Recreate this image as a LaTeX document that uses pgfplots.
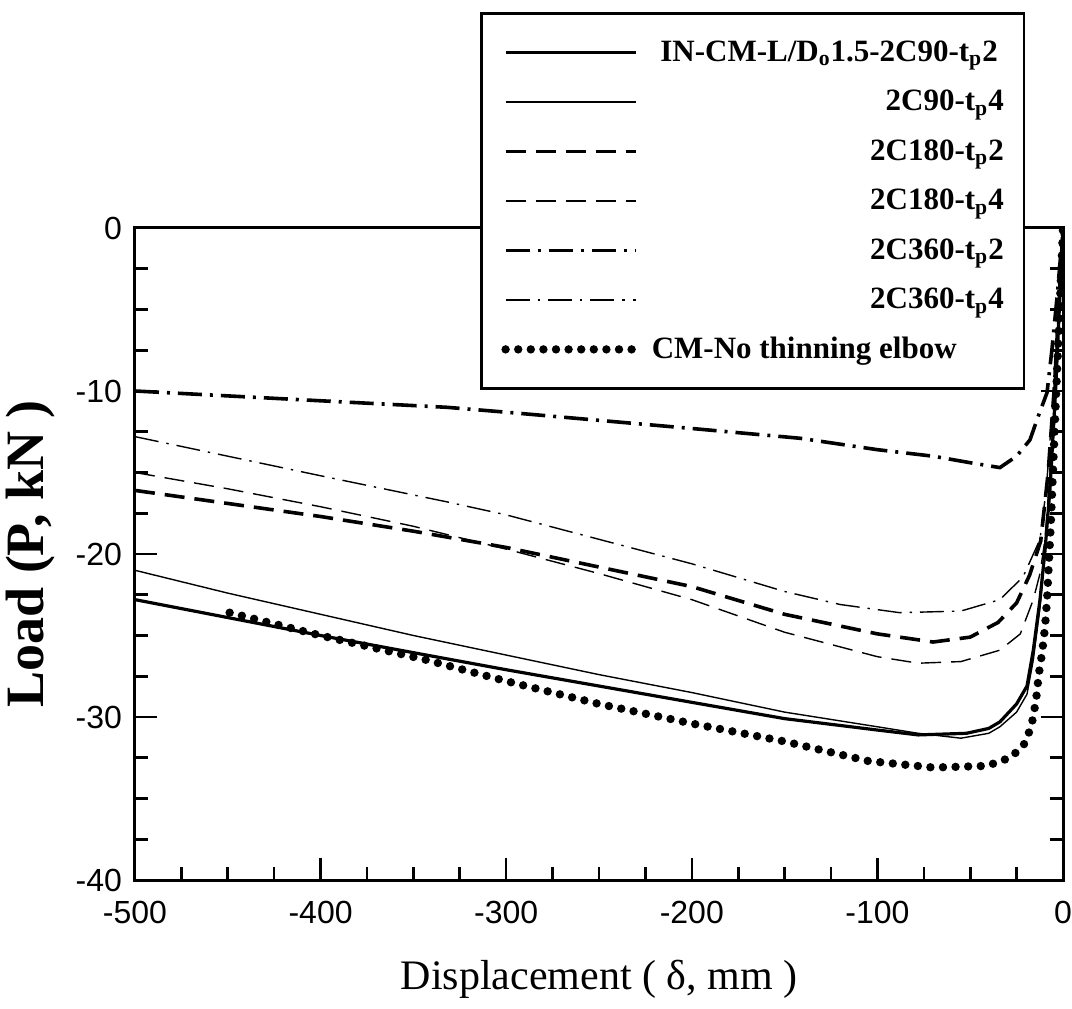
\documentclass[border=0pt]{standalone}
\usepackage{fontspec}
\setmainfont{Liberation Serif}
\newfontfamily\arialfont{Liberation Sans}
\usepackage{pgfplots}
\pgfplotsset{compat=1.18}

\begin{document}
\begin{tikzpicture}
\begin{axis}[
  scale only axis, width=464bp, height=326bp,
  xmin=-500, xmax=0, ymin=-40, ymax=0,
  xtick={-500,-400,...,0}, ytick={-40,-30,...,0},
  minor x tick num=3, minor y tick num=3,
  tick align=inside, xtick pos=bottom, ytick pos=both,
  major tick length=11bp, minor tick length=6.5bp,
  axis line style={line width=1.5bp},
  every tick/.append style={line width=1.3bp, black},
  ticklabel style={font=\arialfont\fontsize{16bp}{16bp}\selectfont},
  xticklabel style={yshift=-7bp},
  yticklabel style={xshift=-3bp},
  /pgf/number format/assume math mode=true,
  xlabel={Displacement ( δ, mm )},
  xlabel style={font=\fontsize{21bp}{21bp}\selectfont, at={(axis description cs:0.5,-0.153)}, anchor=center},
  ylabel={Load (P, kN )},
  ylabel style={font=\bfseries\fontsize{27bp}{27bp}\selectfont, at={(axis description cs:-0.113,0.5)}, anchor=center},
  legend image code/.code={\draw[#1] (0bp,0bp) -- (65bp,0bp);},
  legend style={at={(axis description cs:0.372,1.331)}, anchor=north west,
    draw=black, line width=1.2bp, fill=white,
    inner xsep=10bp, inner ysep=11bp, row sep=7.75bp,
    font=\bfseries\fontsize{15.5bp}{15.5bp}\selectfont,
    nodes={inner sep=0pt, text height=13bp, text depth=4bp},
    cells={anchor=west},
    /tikz/every even column/.append style={column sep=10bp}},
]
% IN-CM-L/Do1.5-2C90-tp2
\addplot[black, line width=1.6bp] coordinates {
(-500,-22.8) (-450,-23.9) (-400,-25.0) (-343,-26.2) (-300,-27.1) (-250,-28.1)
(-200,-29.1) (-150,-30.1) (-100,-30.8) (-78,-31.1) (-52,-31.0) (-40,-30.7)
(-34,-30.3) (-25,-29.2) (-19.4,-28.1) (-16,-25.9) (-12.4,-22.8) (-9.7,-19.8)
(-7,-16) (-4,-10) (0,0)};
\addlegendentry{\makebox[182bp][r]{IN-CM-L/D\textsubscript{o}1.5-2C90-t\textsubscript{p}2\hspace{3bp}}}
% 2C90-tp4
\addplot[black, line width=0.7bp] coordinates {
(-500,-21.0) (-450,-22.4) (-400,-23.7) (-350,-25.0) (-300,-26.2) (-250,-27.4)
(-200,-28.5) (-150,-29.7) (-100,-30.6) (-78,-31.0) (-55,-31.3) (-40,-31.0)
(-34,-30.6) (-25,-29.7) (-19.4,-28.6) (-16,-26.5) (-12.4,-23.3) (-9.7,-20)
(-7,-16) (-4,-10) (0,0)};
\addlegendentry{\makebox[182bp][r]{2C90-t\textsubscript{p}4}}
% 2C180-tp2
\addplot[black, line width=1.8bp, dash pattern=on 10bp off 5bp] coordinates {
(-500,-16.1) (-450,-16.9) (-400,-17.7) (-350,-18.6) (-300,-19.6) (-250,-20.8)
(-200,-22.0) (-150,-23.7) (-100,-24.9) (-70,-25.4) (-50,-25.1) (-35,-24.2)
(-25,-23.0) (-18,-21.3) (-12,-19.2) (-8,-15) (-4.5,-9.5) (0,0)};
\addlegendentry{\makebox[182bp][r]{2C180-t\textsubscript{p}2}}
% 2C180-tp4
\addplot[black, line width=0.7bp, dash pattern=on 10bp off 5bp] coordinates {
(-500,-15.0) (-450,-16.0) (-400,-17.1) (-350,-18.3) (-300,-19.7) (-250,-21.2)
(-200,-22.8) (-150,-24.8) (-100,-26.3) (-78,-26.7) (-55,-26.6) (-34,-25.9)
(-23,-24.9) (-16,-22.8) (-12.4,-21.2) (-9.7,-19.1) (-7,-15) (-4,-9.5) (0,0)};
\addlegendentry{\makebox[182bp][r]{2C180-t\textsubscript{p}4}}
% 2C360-tp2
\addplot[black, line width=1.8bp, dash pattern=on 12bp off 4bp on 1.5bp off 4bp] coordinates {
(-500,-10.0) (-450,-10.3) (-400,-10.6) (-332,-11.0) (-300,-11.3) (-250,-11.8)
(-200,-12.3) (-141.7,-12.9) (-100,-13.6) (-70,-14.0) (-50,-14.4) (-34,-14.7)
(-25,-14.0) (-17.8,-13.0) (-13.5,-11.6) (-8.6,-10.1) (-6,-7.5) (-3,-4) (0,0)};
\addlegendentry{\makebox[182bp][r]{2C360-t\textsubscript{p}2}}
% 2C360-tp4
\addplot[black, line width=0.7bp, dash pattern=on 12bp off 4bp on 1.2bp off 4bp] coordinates {
(-500,-12.8) (-450,-14.0) (-400,-15.2) (-332,-16.8) (-300,-17.6) (-250,-19.1)
(-200,-20.6) (-150,-22.3) (-120,-23.1) (-88,-23.6) (-55,-23.5) (-34,-22.8)
(-21.5,-21.4) (-12.4,-19.1) (-9,-16) (-5,-10) (0,0)};
\addlegendentry{\makebox[182bp][r]{2C360-t\textsubscript{p}4}}
% CM-No thinning elbow
\addplot[black, line width=4.2bp, line cap=round, dash pattern=on 0bp off 6.3bp] coordinates {
(-449,-23.6) (-400,-25.0) (-343,-26.5) (-300,-27.8) (-250,-29.2) (-200,-30.4)
(-150,-31.5) (-105,-32.7) (-70,-33.1) (-41,-33.0) (-28.6,-32.5) (-21.5,-31.8)
(-17.8,-30.8) (-16,-30.0) (-14,-28.5) (-13.2,-27.5) (-11.3,-26.1) (-9.7,-24.5)
(-8.6,-22.8) (-6.5,-18) (-4,-11) (0,0)};
\addlegendentry{\makebox[182bp][l]{\hspace{6bp}CM-No thinning elbow}}
\end{axis}
\pgfresetboundingbox
\path (-67.5bp,-64.5bp) rectangle (468.5bp,440bp);
\end{tikzpicture}
\end{document}
